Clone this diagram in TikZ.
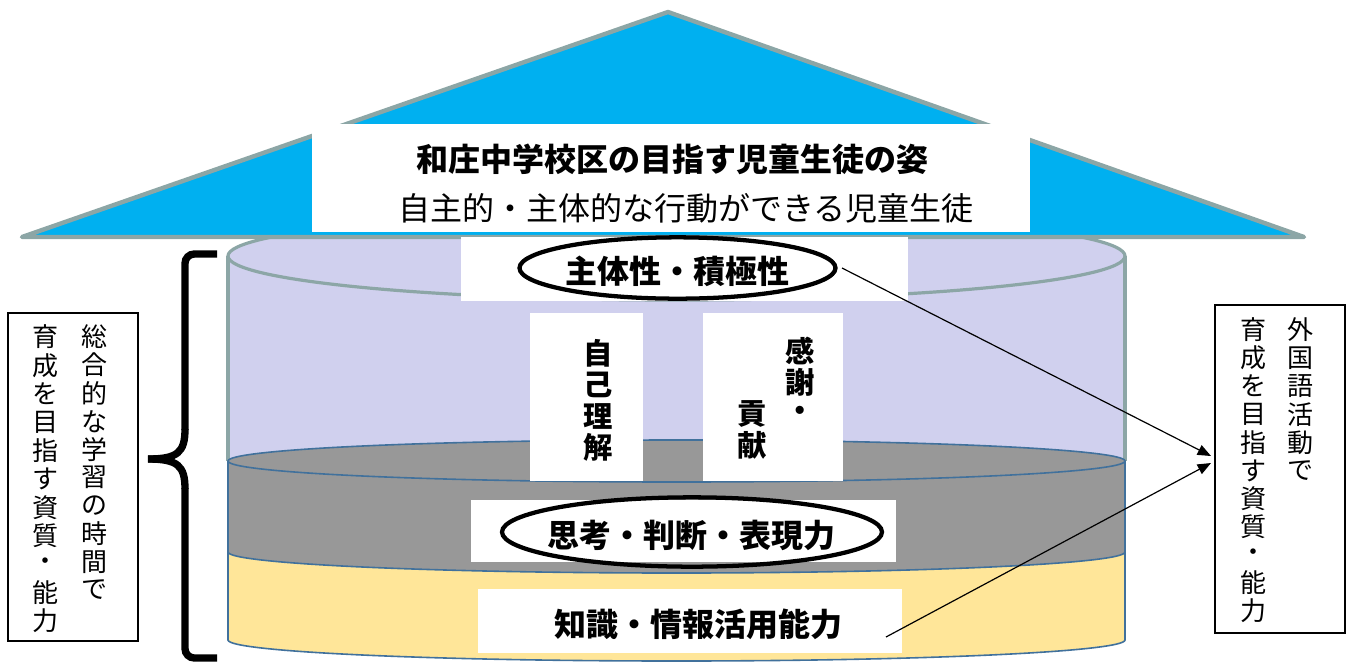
\documentclass[tikz,border=0pt]{standalone}
\usepackage{fontspec}
\setmainfont{Noto Sans CJK JP}
\usetikzlibrary{arrows.meta,shapes.geometric}
\definecolor{roofblue}{HTML}{00B0F0}
\definecolor{roofedge}{RGB}{140,166,166}
\definecolor{lav}{RGB}{208,208,238}
\definecolor{midgray}{RGB}{152,152,152}
\definecolor{sand}{HTML}{FFE699}
\definecolor{cylblue}{HTML}{41719C}
\tikzset{
  ttl/.style={font=\fontsize{24}{28}\selectfont\bfseries, inner sep=0},
  sub/.style={font=\fontsize{24}{28}\selectfont, inner sep=0},
  lbl/.style={font=\fontsize{24}{28}\selectfont\bfseries, inner sep=0},
  vb/.style={font=\fontsize{22}{26}\selectfont\bfseries, inner sep=0},
  vs/.style={font=\fontsize{19.5}{24}\selectfont, inner sep=0},
  wbox/.style={fill=white, draw=none},
  ovl/.style={draw=black, line width=3.2pt, ellipse, inner sep=0},
  conn/.style={-{Triangle[length=10pt,width=8pt]}, line width=0.9pt},
  sidebox/.style={draw=black, line width=0.8pt, fill=white},
  lavedge/.style={draw=roofedge, line width=2.4pt},
  layeredge/.style={draw=cylblue, line width=1.2pt},
}
\begin{document}
\begin{tikzpicture}[x=0.75pt,y=-0.75pt]
\useasboundingbox (0,0) rectangle (1354,662);
% yellow layer
\path[fill=sand, layeredge] (228,530) -- (228,640) .. controls (228,651.6) and (428.8,661) .. (676.5,661) .. controls (924.2,661) and (1125,651.6) .. (1125,640) -- (1125,530) -- cycle;
% gray layer
\path[fill=midgray, layeredge] (228,461) -- (228,552) .. controls (228,563.6) and (428.8,573) .. (676.5,573) .. controls (924.2,573) and (1125,563.6) .. (1125,552) -- (1125,461) -- cycle;
% lavender layer
\fill[lav] (228,256) rectangle (1125,461);
\draw[lavedge] (228,256) -- (228,461);
\draw[lavedge] (1125,256) -- (1125,461);
\path[fill=midgray, layeredge] (676.5,461) ellipse [x radius=448.5, y radius=21];
\path[fill=lav, lavedge] (676.5,256) ellipse [x radius=448.5, y radius=44];
% roof
\path[fill=roofblue, draw=roofedge, line width=3.3pt, line join=round] (22,237) -- (668,12) -- (1304,237) -- cycle;
% title box
\fill[wbox] (312,124) rectangle (1030,232);
\node[ttl] (title) at (672,159) {和庄中学校区の目指す児童生徒の姿};
\node[sub] (goal) at (686,208) {自主的・主体的な行動ができる児童生徒};
% boxes
\fill[wbox] (461,237) rectangle (908,301);
\node[ovl, minimum width=237pt, minimum height=46pt] (oval1) at (677.5,268) {};
\node[lbl] (shutai) at (677,271) {主体性・積極性};
\fill[wbox] (530,313) rectangle (643,481);
\foreach \c [count=\i from 0] in {自,己,理,解}
  \node[vb] (jiko\i) at (598,{353+31.5*\i}) {\c};
\fill[wbox] (703,313) rectangle (843,481);
\foreach \c [count=\i from 0] in {感,謝,・}
  \node[vb] (kan\i) at (800,{351+31.5*\i}) {\c};
\foreach \c [count=\i from 2] in {貢,献}
  \node[vb] (kou\i) at (752,{351+31.5*\i}) {\c};
\fill[wbox] (471,500) rectangle (896,562);
\node[ovl, minimum width=285pt, minimum height=52pt] (oval2) at (692,532) {};
\node[lbl] (shiko) at (691,535) {思考・判断・表現力};
\fill[wbox] (478,589) rectangle (902,653);
\node[lbl] (chishiki) at (698,624) {知識・情報活用能力};
% brace
\draw[line width=5.5pt, rounded corners=7pt] (217,254) -- (185,254) -- (185,430);
\draw[line width=5.5pt] (185,429) .. controls (185,452) and (178,459) .. (148,459);
\draw[line width=5.5pt] (148,459) .. controls (178,459) and (185,466) .. (185,489);
\draw[line width=5.5pt, rounded corners=7pt] (185,488) -- (185,658) -- (217,658);
% left box
\fill[sidebox] (8,313) rectangle (138,641);
\foreach \c [count=\i from 0] in {総,合,的,な,学,習,の,時,間,で}
  \node[vs] (sa\i) at (94,{337+28.1*\i}) {\c};
\foreach \c [count=\i from 0] in {育,成,を,目,指,す,資,質,・,能,力}
  \node[vs] (sb\i) at (45,{337+28.4*\i}) {\c};
% right box
\path[sidebox] (1215,305) rectangle (1345,633);
\foreach \c [count=\i from 0] in {外,国,語,活,動,で}
  \node[vs] (ra\i) at (1300,{330+28.2*\i}) {\c};
\foreach \c [count=\i from 0] in {育,成,を,目,指,す,資,質,・,能,力}
  \node[vs] (rb\i) at (1253,{330+28.1*\i}) {\c};
% connectors
\coordinate (s1) at (842,268);
\coordinate (t1) at (1211,456);
\coordinate (s2) at (886,637);
\coordinate (t2) at (1211,463);
\draw[conn] (s1) -- (t1);
\draw[conn] (s2) -- (t2);
\end{tikzpicture}
\end{document}
